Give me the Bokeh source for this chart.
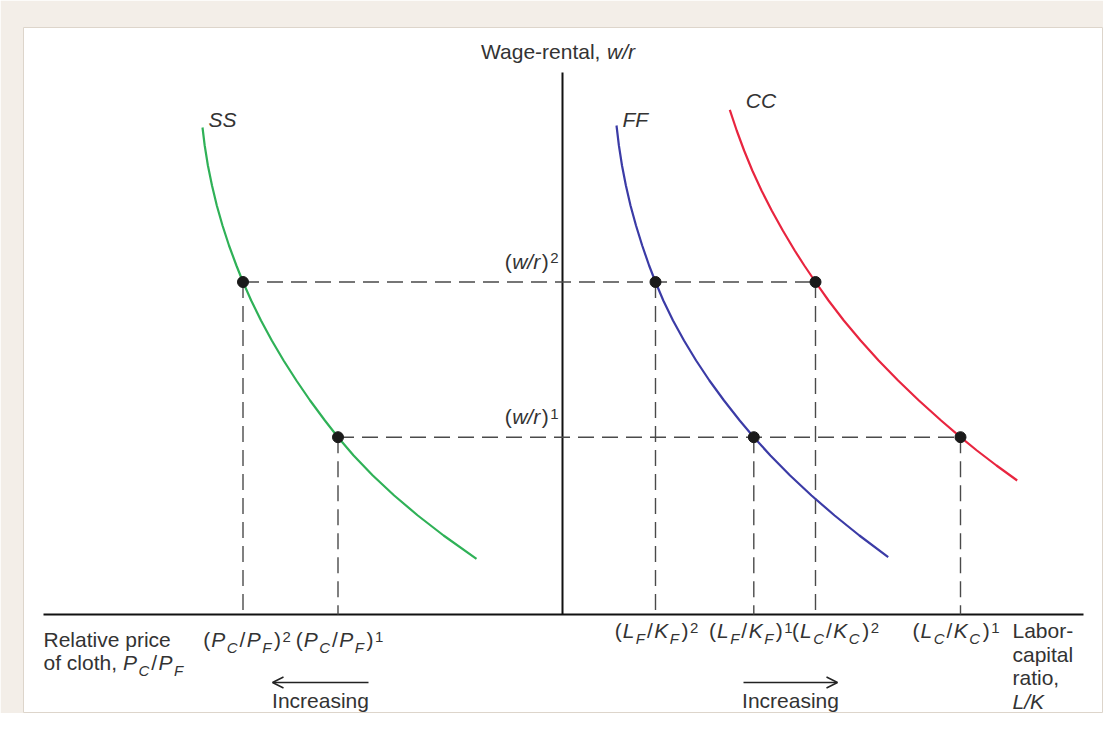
from bokeh.plotting import figure
from bokeh.models import ColumnDataSource, Range1d, Arrow, OpenHead
from bokeh.core.properties import value
from bokeh.embed import file_html
from bokeh.resources import INLINE

# ---------------- data (diagram units) ----------------
# wage-rental levels: (w/r)^1, (w/r)^2
wr_levels = [1.773, 3.325]
# equilibrium points on each schedule at (w/r)^1 and (w/r)^2
ss_price_eq = [2.245, 3.195]   # (PC/PF)^1, (PC/PF)^2  (plotted to the left)
ff_lk_eq = [1.913, 0.93]       # (LF/KF)^1, (LF/KF)^2
cc_lk_eq = [3.98, 2.53]        # (LC/KC)^1, (LC/KC)^2

# SS schedule: relative price of cloth vs wage-rental
ss_price = [3.60, 3.578, 3.546, 3.505, 3.457, 3.40, 3.335, 3.261, 3.195, 3.113, 3.015, 2.907,
            2.789, 2.661, 2.524, 2.376, 2.245, 2.089, 1.897, 1.683, 1.447, 1.189, 0.86]
ss_wr = [4.87, 4.69, 4.49, 4.29, 4.09, 3.89, 3.69, 3.49, 3.325, 3.14, 2.94, 2.74,
         2.54, 2.34, 2.14, 1.94, 1.773, 1.59, 1.39, 1.19, 0.99, 0.79, 0.557]
# FF schedule: labor-capital ratio in food vs wage-rental
ff_lk = [0.54, 0.564, 0.595, 0.634, 0.68, 0.735, 0.797, 0.866, 0.93, 1.008, 1.105, 1.215,
         1.336, 1.469, 1.615, 1.772, 1.913, 2.079, 2.276, 2.49, 2.721, 2.969, 3.257]
ff_wr = [4.89, 4.69, 4.49, 4.29, 4.09, 3.89, 3.69, 3.49, 3.325, 3.14, 2.94, 2.74,
         2.54, 2.34, 2.14, 1.94, 1.773, 1.59, 1.39, 1.19, 0.99, 0.79, 0.573]
# CC schedule: labor-capital ratio in cloth vs wage-rental
cc_lk = [1.673, 1.742, 1.816, 1.898, 1.99, 2.092, 2.203, 2.322, 2.418, 2.53, 2.66, 2.813,
         2.981, 3.161, 3.356, 3.564, 3.786, 3.98, 4.144, 4.34, 4.547]
cc_wr = [5.047, 4.84, 4.64, 4.44, 4.24, 4.04, 3.84, 3.64, 3.49, 3.325, 3.14, 2.94,
         2.74, 2.54, 2.34, 2.14, 1.94, 1.773, 1.64, 1.49, 1.34]

x_axis_extent = [-5.19, 5.21]
y_axis_top = 5.42

# ---------------- style ----------------
FONT = "Liberation Sans"
TXT = "#333333"
GREEN = "#2fb157"
BLUE = "#3b3ba6"
RED = "#e8253f"
DASH = "#4a4a4a"
BIG = 21
SMALL = 15
BASE_CORR = 0.38   # measured shift of rendered alphabetic baseline, in em

p = figure(width=1103, height=713, output_backend="svg", toolbar_location=None,
           x_range=Range1d(-5.39, 5.41), y_range=Range1d(-0.99, 5.87),
           x_axis_type=None, y_axis_type=None,
           min_border_left=23, min_border_top=27, min_border_right=0, min_border_bottom=0)
p.grid.visible = False
p.background_fill_color = "white"
p.border_fill_color = "#f3eee8"
p.outline_line_color = "#ddd5cb"
p.outline_line_width = 1

# axes
p.segment(x0=[x_axis_extent[0]], y0=[0], x1=[x_axis_extent[1]], y1=[0], line_color="#111111", line_width=2)
p.segment(x0=[0], y0=[0], x1=[0], y1=[y_axis_top], line_color="#111111", line_width=2)

# dashed guide lines
hx0 = [-v for v in ss_price_eq]
p.segment(x0=hx0, y0=wr_levels, x1=cc_lk_eq, y1=wr_levels, line_color=DASH, line_width=1.4, line_dash="16 8")
vx = hx0 + ff_lk_eq + cc_lk_eq
vy = wr_levels + wr_levels + wr_levels
p.segment(x0=vx, y0=vy, x1=vx, y1=[0] * len(vx), line_color=DASH, line_width=1.4, line_dash="16 8")

# curves
p.line([-v for v in ss_price], ss_wr, line_color=GREEN, line_width=2.2, line_join="round")
p.line(ff_lk, ff_wr, line_color=BLUE, line_width=2.2, line_join="round")
p.line(cc_lk, cc_wr, line_color=RED, line_width=2.2, line_join="round")

# dots
p.scatter(vx, vy, size=11, fill_color="#1a1a1a", line_color="#1a1a1a")

# ---------------- rich text helper ----------------
W = dict(zip("abcdefghijklmnopqrstuvwxyz",
             [556, 556, 500, 556, 556, 278, 556, 556, 222, 222, 500, 222, 833, 556, 556, 556, 556, 333, 500, 278, 556, 500, 722, 500, 500, 500]))
W.update(dict(zip("ABCDEFGHIJKLMNOPQRSTUVWXYZ",
                  [667, 667, 722, 722, 667, 611, 778, 722, 278, 500, 667, 556, 833, 722, 778, 667, 778, 722, 667, 611, 722, 667, 944, 667, 667, 611])))
W.update({" ": 278, ",": 278, "-": 333, "/": 278, "(": 333, ")": 333, ".": 278})
for d in "0123456789":
    W[d] = 556

groups = {}  # (style, size) -> dict of lists


def twidth(s, size):
    return sum(W.get(c, 556) for c in s) / 1000.0 * size


def rich(x, y, segs, align="left", dx=0.0, dy=0.0):
    # segs: (text, kind, gap) kind: n normal, i italic, b italic subscript, p normal superscript
    widths = []
    for t, k, g in segs:
        size = BIG if k in "ni" else SMALL
        widths.append(twidth(t, size) + g)
    total = sum(widths)
    if align == "center":
        start = dx - total / 2
    elif align == "right":
        start = dx - total
    else:
        start = dx
    cur = start
    for (t, k, g), w in zip(segs, widths):
        style = "italic" if k in "ib" else "normal"
        size = BIG if k in "ni" else SMALL
        off = {"n": 0, "i": 0, "b": 6, "p": -5}[k]
        grp = groups.setdefault((style, size), dict(x=[], y=[], text=[], xo=[], yo=[]))
        grp["x"].append(x)
        grp["y"].append(y)
        grp["text"].append(t)
        grp["xo"].append(cur)
        grp["yo"].append(dy + off - BASE_CORR * size)
        cur += w


def ratio_label(a, sa, b, sb, sup):
    return [("(", "n", 1), (a, "i", 1.5), (sa, "b", 2), ("/", "n", 1.5), (b, "i", 1.5), (sb, "b", 2.5),
            (")", "n", 1.5), (sup, "p", 0)]


# curve names at the top end of each curve
rich(-ss_price[0], ss_wr[0], [("SS", "i", 0)], "left", 6, 0)
rich(ff_lk[0], ff_wr[0], [("FF", "i", 0)], "left", 6, 2)
rich(cc_lk[0], cc_wr[0], [("CC", "i", 0)], "left", 16, -1)

# vertical axis title
rich(0, y_axis_top, [("Wage-rental, ", "n", 0), ("w/r", "i", 0)], "center", -4.5, -12.7)

# wage-rental level labels
for lvl, sup in zip(wr_levels, ["1", "2"]):
    rich(0, lvl, [("(", "n", 0.5), ("w/r", "i", 1.5), (")", "n", 1.5), (sup, "p", 0)], "right", -4, -13)

# horizontal tick labels
LEFT_BASE = 33
RIGHT_BASE = 24
rich(-ss_price_eq[1], 0, ratio_label("P", "C", "P", "F", "2"), "center", 4, LEFT_BASE)
rich(-ss_price_eq[0], 0, ratio_label("P", "C", "P", "F", "1"), "center", 1.5, LEFT_BASE)
rich(ff_lk_eq[1], 0, ratio_label("L", "F", "K", "F", "2"), "center", 1, RIGHT_BASE)
rich(ff_lk_eq[0], 0, ratio_label("L", "F", "K", "F", "1"), "center", -3, RIGHT_BASE)
rich(cc_lk_eq[1], 0, ratio_label("L", "C", "K", "C", "2"), "center", 20, RIGHT_BASE)
rich(cc_lk_eq[0], 0, ratio_label("L", "C", "K", "C", "1"), "center", -4.5, RIGHT_BASE)

# axis descriptions
rich(x_axis_extent[0], 0, [("Relative price", "n", 0)], "left", 0, LEFT_BASE)
rich(x_axis_extent[0], 0, [("of cloth, ", "n", 0), ("P", "i", 1.5), ("C", "b", 2), ("/", "n", 1.5),
                           ("P", "i", 1.5), ("F", "b", 0)], "left", 0, LEFT_BASE + 23)
lab_x = 4.50
for i, line in enumerate(["Labor-", "capital", "ratio,"]):
    rich(lab_x, 0, [(line, "n", 0)], "left", 0, RIGHT_BASE + 23.5 * i)
rich(lab_x, 0, [("L/K", "i", 0)], "left", 0, RIGHT_BASE + 23.5 * 3)

# "Increasing" arrows
arrow_y = -0.68
left_arrow = (-1.94, -2.90)
right_arrow = (1.81, 2.75)
for xs, xe in [left_arrow, right_arrow]:
    p.add_layout(Arrow(x_start=xs, y_start=arrow_y, x_end=xe, y_end=arrow_y, line_color="#222222", line_width=1.5,
                       end=OpenHead(size=11, line_width=1.5, line_color="#222222")))
    rich((xs + xe) / 2, 0, [("Increasing", "n", 0)], "center", 0, 94)

for (style, size), d in groups.items():
    src = ColumnDataSource(d)
    p.text(x="x", y="y", text="text", x_offset="xo", y_offset="yo", source=src,
           text_font=value(FONT), text_font_size=value(f"{size}px"), text_font_style=style,
           text_color=TXT, text_align="left", text_baseline="alphabetic")

open("out.html", "w").write(file_html(p, INLINE))
